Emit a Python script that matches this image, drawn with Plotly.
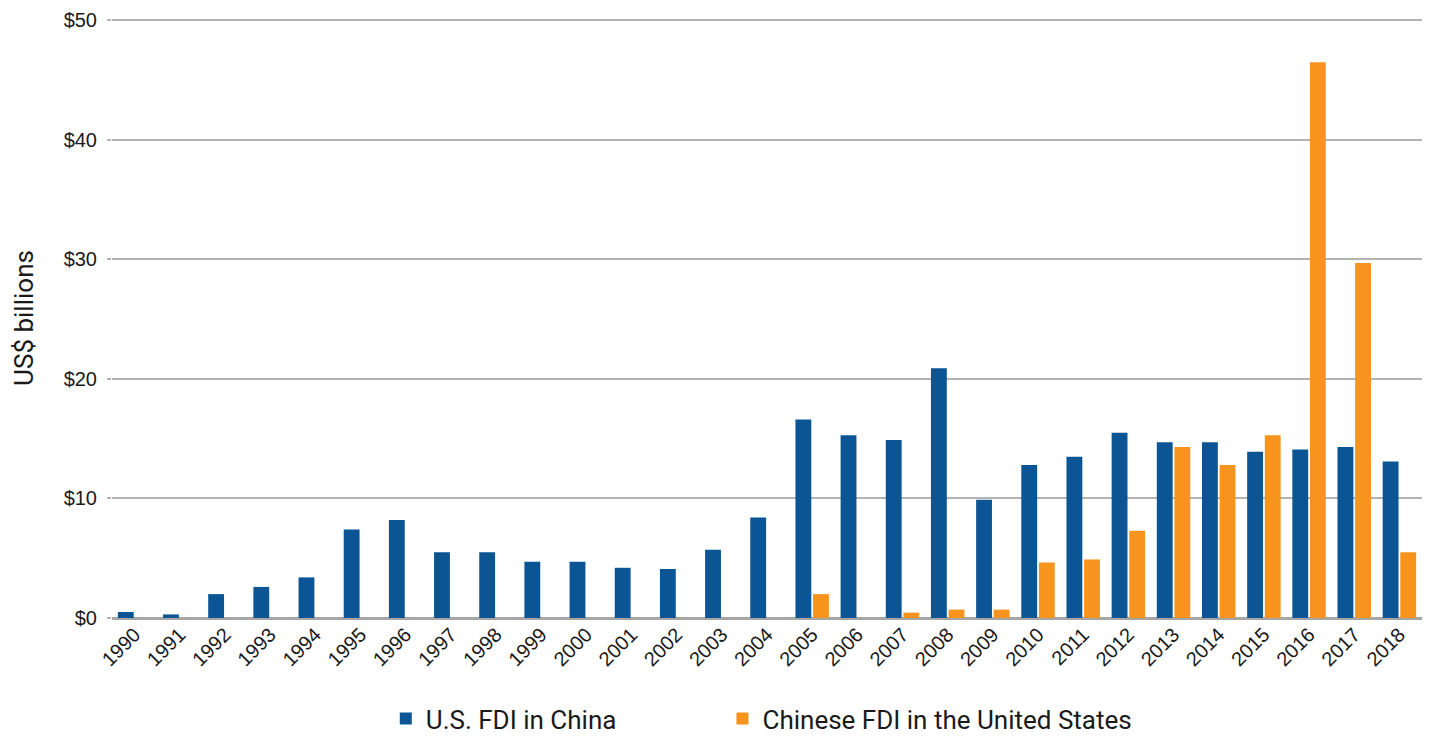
import plotly.graph_objects as go

years = [str(y) for y in range(1990, 2019)]
us_fdi_in_china = [0.5, 0.3, 2.0, 2.6, 3.4, 7.4, 8.2, 5.5, 5.5, 4.7,
                   4.7, 4.2, 4.1, 5.7, 8.4, 16.6, 15.3, 14.9, 20.9, 9.9,
                   12.8, 13.5, 15.5, 14.7, 14.7, 13.9, 14.1, 14.3, 13.1]
china_fdi_in_us = [0, 0, 0, 0, 0, 0, 0, 0, 0, 0,
                   0, 0, 0, 0, 0, 2.0, 0, 0.45, 0.7, 0.7,
                   4.65, 4.9, 7.3, 14.3, 12.8, 15.3, 46.5, 29.7, 5.5]
y_ticks = [0, 10, 20, 30, 40, 50]
y_tick_labels = ["$0", "$10", "$20", "$30", "$40", "$50"]

BLUE = "#0b5595"
ORANGE = "#f7941e"
NARROW = "Roboto, sans-serif"
REG = "Liberation Sans, Arial, Helvetica, sans-serif"
TXT = "#1a1a1a"

fig = go.Figure()
fig.add_trace(go.Bar(x=years, y=us_fdi_in_china, name="U.S. FDI in China",
                     marker=dict(color=BLUE, line=dict(width=0)), legend="legend"))
fig.add_trace(go.Bar(x=years, y=china_fdi_in_us, name="Chinese FDI in the United States",
                     marker=dict(color=ORANGE, line=dict(width=0)), legend="legend2"))

leg_common = dict(orientation="h", yref="container", y=0.0, yanchor="bottom",
                  xanchor="left",
                  font=dict(family=NARROW, size=26, color=TXT), itemwidth=30,
                  bgcolor="rgba(0,0,0,0)")

fig.update_layout(
    width=1430, height=742,
    margin=dict(l=112, r=8, t=18, b=124),
    paper_bgcolor="white", plot_bgcolor="white",
    barmode="group", bargap=0.22, bargroupgap=0.1,
    font=dict(family=REG, size=20, color=TXT),
    showlegend=True,
    legend=dict(x=0.209, **leg_common),
    legend2=dict(x=0.466, **leg_common),
    hovermode=False,
)
fig.update_xaxes(type="category", tickangle=-45, showgrid=False, ticks="",
                 tickfont=dict(family=REG, size=20, color=TXT),
                 showline=False, fixedrange=True, automargin=False)
fig.update_yaxes(range=[0, 50.2], tickvals=y_ticks, ticktext=y_tick_labels,
                 showgrid=True, gridcolor="#b3b3b3", gridwidth=1.5,
                 zeroline=True, zerolinecolor="#a6a6a6", zerolinewidth=2.5,
                 ticks="outside", ticklen=4, tickcolor="#b3b3b3", tickwidth=1.5,
                 ticklabelstandoff=6,
                 tickfont=dict(family=REG, size=20, color=TXT),
                 title=dict(text="US$ billions", font=dict(family=NARROW, size=26, color=TXT),
                            standoff=22),
                 fixedrange=True, automargin=False)

fig.write_html("out.html")
